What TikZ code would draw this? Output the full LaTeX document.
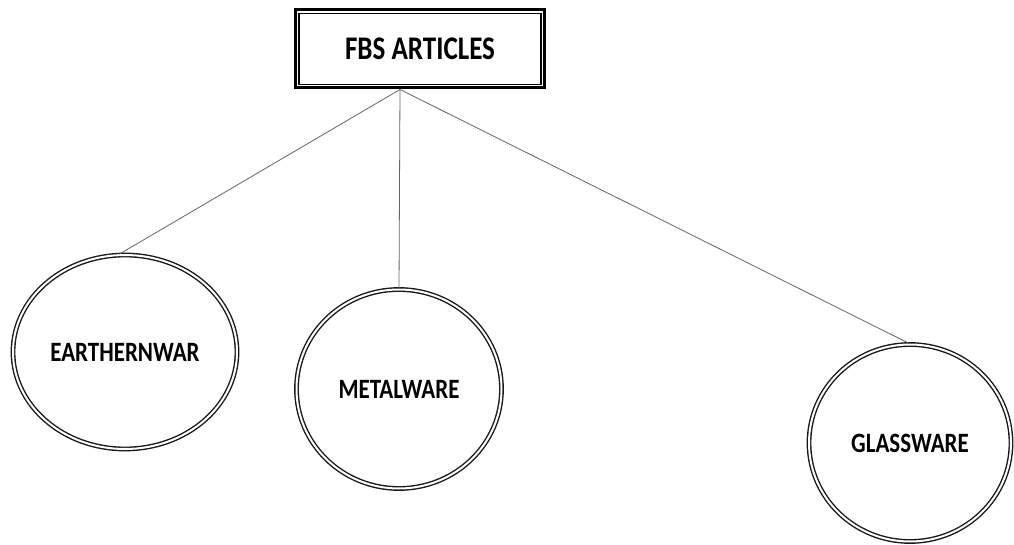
\documentclass[tikz,border=0pt]{standalone}
\usepackage{fontspec}
\setmainfont{Carlito}
\newfontfamily\labelfont[FakeStretch=0.82]{Carlito}
\usepackage{tikz}
\usetikzlibrary{shapes.geometric}

\tikzset{
  kind/.style={ellipse, draw=black!90, line width=1.4pt, double=white,
    double distance=2pt, inner sep=0pt, font=\labelfont\fontsize{28}{28}\selectfont\bfseries},
  link/.style={draw=black!60, line width=0.8pt}
}

\begin{document}
\begin{tikzpicture}[x=1pt,y=-1pt]
    % fix the frame
    \useasboundingbox (0,0) rectangle (1014,545);

    % draw top box
    \node[draw, line width=3pt, minimum width=249pt, minimum height=78pt,
      font=\labelfont\fontsize{33}{33}\selectfont\bfseries] (top) at (420,49) {FBS ARTICLES};
    \draw[line width=1.3pt] ([shift={(5,5)}]top.north west) rectangle ([shift={(-5,-5)}]top.south east);
    \coordinate (root) at ([xshift=-20pt]top.south);

    % draw kinds
    \node[kind, minimum width=224pt, minimum height=194pt] (earth) at (125,352) {EARTHERNWAR};
    \node[kind, minimum width=205pt, minimum height=199pt] (metal) at (399,389) {METALWARE};
    \node[kind, minimum width=202pt, minimum height=197pt] (glass) at (910,443) {GLASSWARE};

    % draw links
    \draw[link] (root) -- ([xshift=-6pt]earth.north);
    \draw[link] (root) -- (metal.north);
    \draw[link] (root) -- (glass.north);
\end{tikzpicture}
\end{document}
